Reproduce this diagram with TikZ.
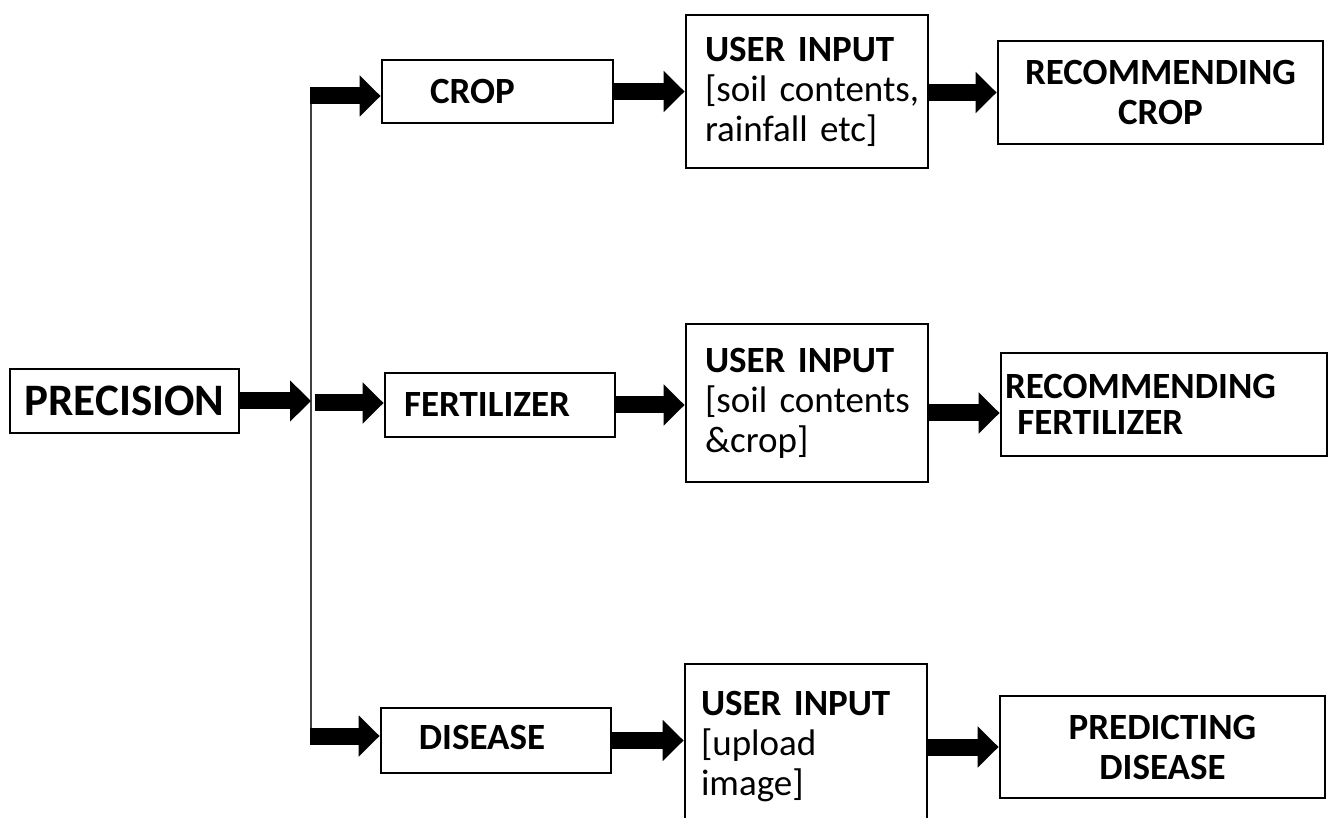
\documentclass[tikz,border=0pt]{standalone}
\usepackage{fontspec}
\setmainfont{Carlito}
\usetikzlibrary{arrows.meta}

\tikzset{
box/.style={draw=black, line width=1.4pt, inner sep=0pt, font=\bfseries\fontsize{18.5}{20}\selectfont},
inputbox/.style={box, align=left, text width=102pt, inner xsep=9.5pt, font=\fontsize{18.5}{20}\selectfont},
blockarrow/.style={line width=8.5pt, -{Triangle[length=10.5pt,width=20pt]}},
trunkline/.style={draw=black!75, line width=0.8pt},
}

\begin{document}
\begin{tikzpicture}[%
x=0.5pt, y=-0.5pt,
]
\useasboundingbox (0,0) rectangle (1329,818);
%% box;
\node [box, minimum width=114.5pt, minimum height=32pt, font=\bfseries\fontsize{22.5}{24}\selectfont] (precision) at (124.5,401) {PRECISION};
%% box;
\node [box, minimum width=115.5pt, minimum height=31.5pt] (crop) at (497.5,91.5) {CROP\kern25pt};
\node [box, minimum width=115pt, minimum height=32pt] (fert) at (500,405) {FERTILIZER\kern13pt};
\node [box, minimum width=115pt, minimum height=32.5pt] (disease) at (496,740.5) {\raisebox{3pt}{DISEASE}\kern14pt};
%% box;
\node [inputbox, minimum height=76.5pt] (ui1) at (807,91.5) {\mbox{\textbf{USER INPUT}}\\\mbox{[soil contents,}\\\mbox{rainfall etc]}};
\node [inputbox, minimum height=79pt] (ui2) at (807,403) {\mbox{\textbf{USER INPUT}}\\\mbox{[soil contents}\\\mbox{\&crop]}};
\node [inputbox, minimum height=83pt, inner xsep=8pt, text width=105pt] (ui3) at (806,747) {\mbox{\textbf{USER INPUT}}\\\mbox{[upload}\\\mbox{image]}};
%% box;
\node [box, minimum width=162.5pt, minimum height=51.5pt, align=center] (rc) at (1160.5,92.5) {RECOMMENDING\\CROP};
\node [box, minimum width=163pt, minimum height=51.5pt, align=left, text width=159pt, inner xsep=2pt, font=\bfseries\fontsize{18.5}{18}\selectfont] (rf) at (1164,404.5) {RECOMMENDING\\\ FERTILIZER};
\node [box, minimum width=162.5pt, minimum height=51pt, align=center] (pd) at (1162.5,747) {PREDICTING\\DISEASE};
%% trunk;
\coordinate (ttop) at (311,87);
\coordinate (tbot) at (311,745);
\draw [trunkline] (ttop) -- (tbot);
\draw [blockarrow] (precision.east) -- (precision.east -| ttop);
%% branches;
\coordinate (b1) at (310,96);
\coordinate (b2) at (315,403);
\coordinate (b3) at (310,736);
\draw [blockarrow] (b1) -- (b1 -| crop.west);
\draw [blockarrow] (b2) -- (b2 -| fert.west);
\draw [blockarrow] (b3) -- (b3 -| disease.west);
%% arrows;
\draw [blockarrow] (crop.east) -- (crop.east -| ui1.west);
\draw [blockarrow] (fert.east) -- (fert.east -| ui2.west);
\draw [blockarrow] (disease.east) -- (disease.east -| ui3.west);
\draw [blockarrow] (ui1.east |- rc.west) -- (rc.west);
\draw [blockarrow] (ui2.east |- 0,413) -- (rf.west |- 0,413);
\draw [blockarrow] (ui3.east |- pd.west) -- (pd.west);
\end{tikzpicture}
\end{document}
